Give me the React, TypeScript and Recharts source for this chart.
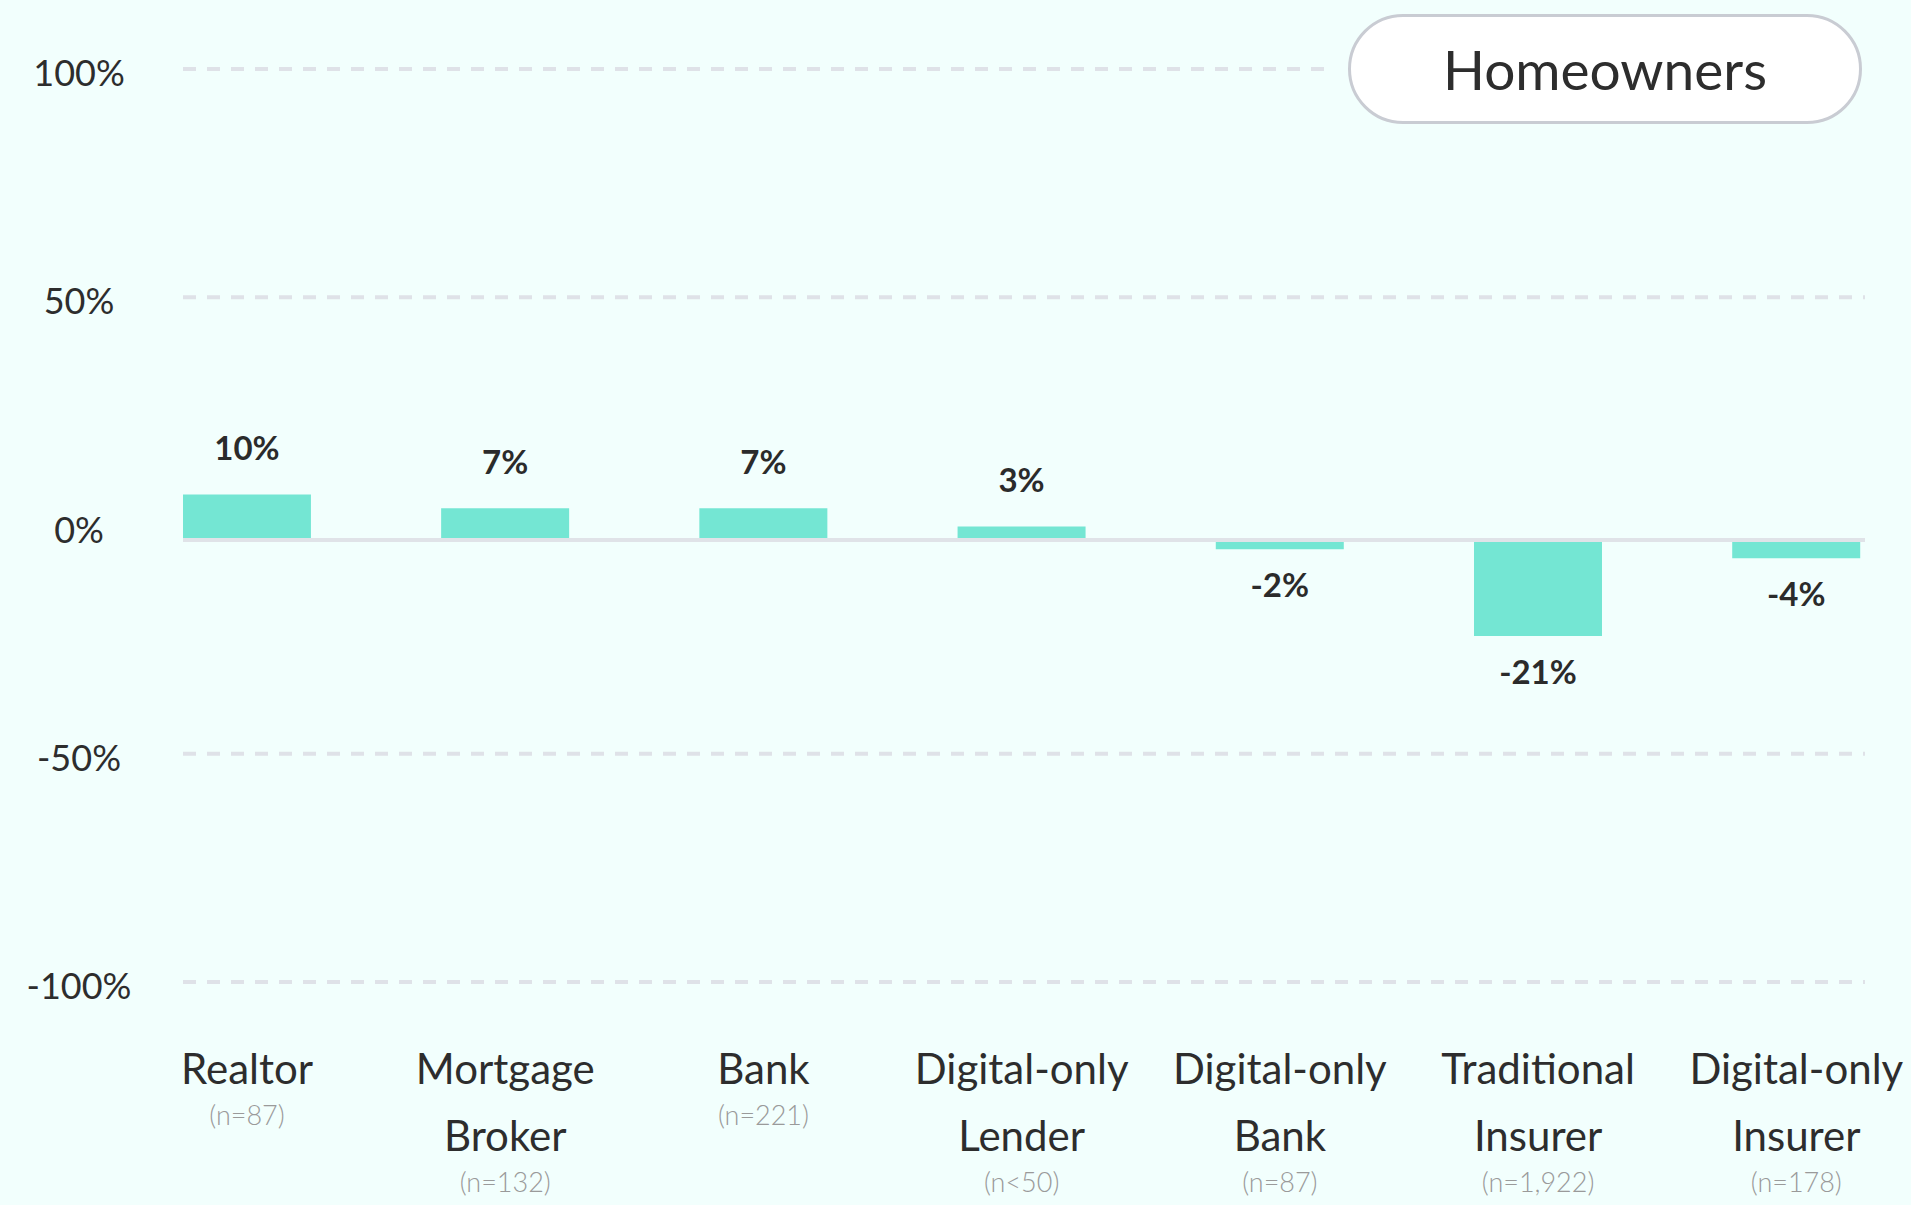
import React from 'react';
import { ComposedChart, Bar, Line, XAxis, YAxis, ReferenceLine, LabelList } from 'recharts';

const categoryLines: string[][] = [
  ['Realtor'],
  ['Mortgage', 'Broker'],
  ['Bank'],
  ['Digital-only', 'Lender'],
  ['Digital-only', 'Bank'],
  ['Traditional', 'Insurer'],
  ['Digital-only', 'Insurer'],
];
const sampleSizes = ['(n=87)', '(n=132)', '(n=221)', '(n<50)', '(n=87)', '(n=1,922)', '(n=178)'];
const values = [10, 7, 7, 3, -2, -21, -4];
const yTicks = [100, 50, 0, -50, -100];
const dashedGrid = [100, 50, -50, -100];
const title = 'Homeowners';

const data = values.map((v, i) => ({ idx: i, value: v }));

const BG = '#f2fffd';
const BAR = '#74e6d3';
const TEXT = '#2d2d2d';
const FONT = 'Lato, "Open Sans", sans-serif';

const YTick = (props: any) => {
  const { x, y, payload } = props;
  return (
    <text x={x - 44} y={y + 3} textAnchor="middle" dominantBaseline="central" fontSize={36} fill={TEXT} fontFamily={FONT}>
      {payload.value}%
    </text>
  );
};

const XTick = (props: any) => {
  const { x, y, payload } = props;
  const i = payload.value as number;
  const lines = categoryLines[i] || [];
  return (
    <g>
      {lines.map((l, k) => (
        <text key={k} x={x} y={y + 86 + 67 * k} textAnchor="middle" dominantBaseline="central" fontSize={42} fill={TEXT} fontFamily={FONT}>
          {l}
        </text>
      ))}
      <text x={x} y={y + 86 + 67 * (lines.length - 1) + 46} textAnchor="middle" dominantBaseline="central" fontSize={27} fontWeight={300} fill="#9a9a9a" fontFamily={FONT}>
        {sampleSizes[i]}
      </text>
    </g>
  );
};

const ValueLabel = (props: any) => {
  const { x, y, width, height, value } = props;
  const top = Math.min(y, y + height);
  const bottom = Math.max(y, y + height);
  const cx = x + width / 2;
  const ty = value >= 0 ? top - 34 : bottom + 48;
  return (
    <text x={cx} y={ty} textAnchor="middle" fontSize={33} fontWeight={700} fill="#2b2b2b" fontFamily={FONT}>
      {value}%
    </text>
  );
};

export default function App() {
  return (
    <div style={{ position: 'absolute', left: 0, top: 0, width: 1911, height: 1205, background: BG, fontFamily: FONT, overflow: 'hidden' }}>
      <ComposedChart width={1911} height={1205} data={data} margin={{ top: 69, right: 46, bottom: 23, left: 33 }}>
        <XAxis
          dataKey="idx"
          type="number"
          domain={[-0.248, 6.266]}
          allowDataOverflow
          ticks={[0, 1, 2, 3, 4, 5, 6]}
          interval={0}
          height={200}
          axisLine={false}
          tickLine={false}
          tickSize={0}
          tickMargin={0}
          tick={<XTick />}
        />
        <YAxis
          yAxisId="ticks"
          type="number"
          domain={[-100, 100]}
          allowDataOverflow
          ticks={yTicks}
          interval={0}
          width={150}
          axisLine={false}
          tickLine={false}
          tickSize={0}
          tickMargin={0}
          tick={<YTick />}
        />
        <YAxis yAxisId="bars" type="number" domain={[-96.8, 103.2]} hide allowDataOverflow />
        {dashedGrid.map((v) => (
          <ReferenceLine key={v} yAxisId="ticks" y={v} stroke="#dfe2e8" strokeWidth={4} strokeDasharray="13 11" />
        ))}
        <ReferenceLine yAxisId="bars" y={0} stroke="#e0e3e8" strokeWidth={4} />
        <Line
          yAxisId="ticks"
          dataKey="value"
          stroke="none"
          strokeOpacity={0}
          dot={false}
          activeDot={false}
          legendType="none"
          isAnimationActive={false}
        />
        <Bar yAxisId="bars" dataKey="value" fill={BAR} barSize={128} isAnimationActive={false}>
          <LabelList dataKey="value" content={<ValueLabel />} />
        </Bar>
      </ComposedChart>
      <div
        style={{
          position: 'absolute',
          left: 1348,
          top: 14,
          width: 508,
          height: 104,
          border: '3px solid #c9ccd3',
          borderRadius: 56,
          background: '#ffffff',
          boxShadow: `0 0 0 24px ${BG}`,
          display: 'flex',
          alignItems: 'center',
          justifyContent: 'center',
          fontSize: 55,
          color: TEXT,
          fontFamily: FONT,
        }}
      >
        {title}
      </div>
    </div>
  );
}
